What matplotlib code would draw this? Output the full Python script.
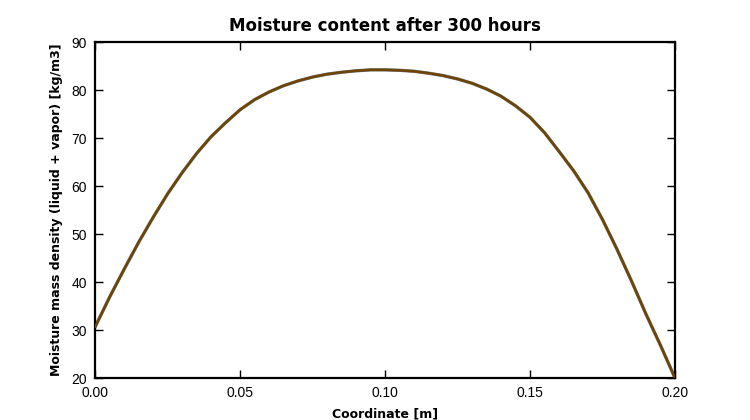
import numpy as np
import matplotlib
matplotlib.use("Agg")
import matplotlib.pyplot as plt

# moisture profile (every 5 mm)
coord = [0.000, 0.005, 0.010, 0.015, 0.020, 0.025, 0.030, 0.035, 0.040, 0.045,
         0.050, 0.055, 0.060, 0.065, 0.070, 0.075, 0.080, 0.085, 0.090, 0.095,
         0.100, 0.105, 0.110, 0.115, 0.120, 0.125, 0.130, 0.135, 0.140, 0.145,
         0.150, 0.155, 0.160, 0.165, 0.170, 0.175, 0.180, 0.185, 0.190, 0.195,
         0.200]
moisture = [30.7, 36.9, 42.7, 48.3, 53.5, 58.4, 62.8, 66.8, 70.3, 73.2,
            75.9, 78.0, 79.6, 80.9, 81.9, 82.7, 83.3, 83.7, 84.0, 84.2,
            84.2, 84.1, 83.9, 83.5, 83.0, 82.3, 81.4, 80.2, 78.7, 76.7,
            74.3, 71.1, 67.2, 63.2, 58.6, 53.0, 46.8, 40.2, 33.3, 26.8,
            20.0]

fig = plt.figure(figsize=(7.5, 4.2), dpi=100)
ax = fig.add_axes([0.127, 0.1, 0.773, 0.8])

ax.plot(coord, moisture, color="#707a80", linewidth=2.4, zorder=2)
ax.plot(coord, moisture, color="#6e4400", linewidth=1.8, zorder=3)

ax.set_xlim(0.0, 0.2)
ax.set_ylim(20, 90)
ax.set_xticks([0.00, 0.05, 0.10, 0.15, 0.20])
ax.set_xticklabels(["0.00", "0.05", "0.10", "0.15", "0.20"])
ax.set_yticks(range(20, 91, 10))

for s in ax.spines.values():
    s.set_linewidth(1.6)
ax.tick_params(direction="in", length=5.5, width=1.0, top=True, right=True,
               labelsize=10, pad=6)
for lab in ax.get_xticklabels() + ax.get_yticklabels():
    lab.set_family("Liberation Sans")

ax.set_title("Moisture content after 300 hours", fontsize=12, fontweight="bold", pad=8)
ax.set_xlabel("Coordinate [m]", fontsize=9, fontweight="bold", labelpad=5)
ax.set_ylabel("Moisture mass density (liquid + vapor) [kg/m3]", fontsize=9,
              fontweight="bold", labelpad=6)

fig.savefig("out.png", dpi=100)
